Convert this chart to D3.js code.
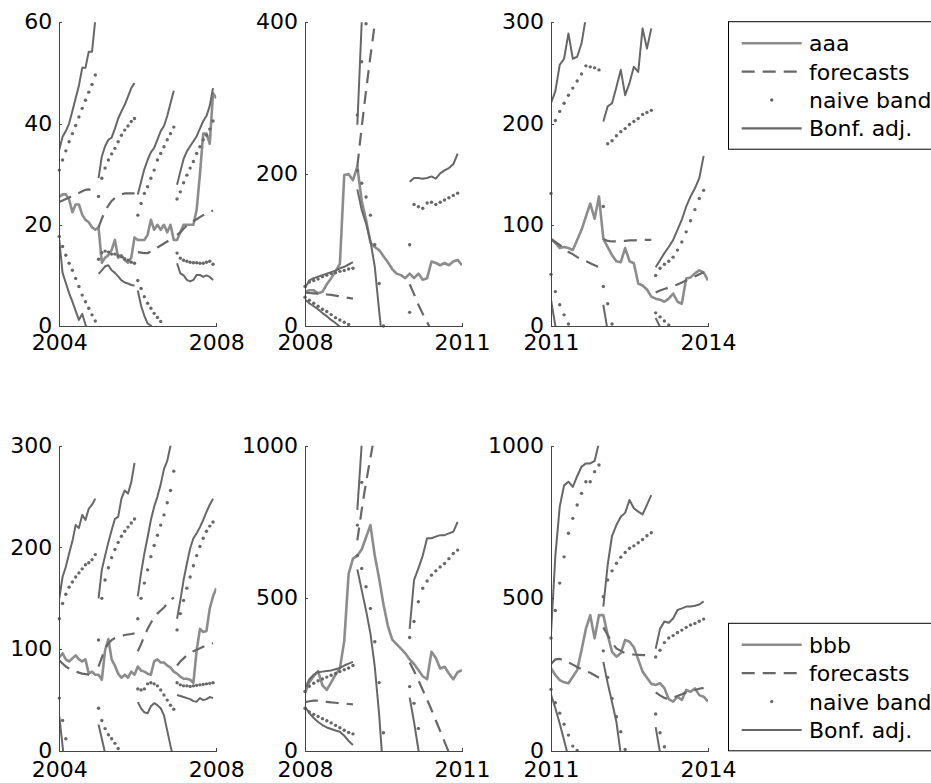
<!DOCTYPE html>
<html>
<head>
<meta charset="utf-8">
<script src="https://cdn.jsdelivr.net/npm/d3@7"></script>
<style>
body { margin: 0; background: #fff; }
svg { display: block; font-family: "DejaVu Sans", sans-serif; }
.axis path, .axis line { stroke: #444; shape-rendering: crispEdges; }
.axis text { font-size: 22px; fill: #000; font-family: "DejaVu Sans", sans-serif; }
.legend text { font-size: 22px; fill: #000; }
</style>
</head>
<body>
<svg id="chart" width="931" height="783"></svg>
<script>
// panel settings (top row = aaa, bottom row = bbb)
const panelYears = [[2004, 2008], [2008, 2011], [2011, 2014]];
const yMaxTop = [60, 400, 300];
const yTicksTop = [[0, 20, 40, 60], [0, 200, 400], [0, 100, 200, 300]];
const yMaxBot = [300, 1000, 1000];
const yTicksBot = [[0, 100, 200, 300], [0, 500, 1000], [0, 500, 1000]];
const seriesNames = ['aaa', 'bbb'];
const legendLabels = ['forecasts', 'naive band', 'Bonf. adj.'];

// observed monthly values
const obs1 = [25.5, 26, 26, 25, 22.5, 24, 24, 22, 21, 20.5, 19.5, 19, 19.5, 12.5, 13.5, 14, 15, 17, 13.5, 14, 13, 12.5, 13.5, 17.5,
  17, 17, 17, 18, 21, 19, 20, 19, 20, 18.5, 20, 17, 17, 18.5, 20, 20, 20, 20, 23, 30, 38, 38, 36, 46, 45];
const obs2 = [45, 47, 47, 43, 45, 55, 63, 72, 82, 199, 200, 192, 210, 165, 140, 110, 104, 100, 92, 84, 75, 69, 67, 63,
  69, 63, 69, 61, 63, 85, 83, 80, 83, 80, 85, 87, 80];
const obs3 = [86, 82, 77, 78, 77, 75, 85, 95, 108, 121, 106, 128, 86, 78, 70, 64, 63, 77, 64, 62, 42, 40, 36, 29,
  27, 26, 24, 27, 32, 24, 22, 47, 48, 52, 55, 53, 45];
const obs4 = [92, 96, 90, 88, 91, 94, 90, 88, 90, 76, 78, 75, 75, 70, 99, 110, 90, 84, 76, 72, 75, 72, 78, 75,
  83, 79, 78, 76, 75, 88, 90, 87, 87, 84, 82, 78, 76, 73, 71, 71, 70, 67, 99, 120, 117, 118, 140, 152, 160];
const obs5 = [190, 225, 245, 262, 215, 200, 225, 250, 270, 360, 580, 630, 640, 660, 700, 740, 640, 565, 480, 410, 365, 350, 335, 320,
  300, 285, 265, 245, 235, 325, 305, 270, 276, 254, 235, 258, 265];
const obs6 = [271, 249, 232, 225, 222, 243, 265, 330, 400, 445, 369, 445, 445, 380, 325, 309, 320, 364, 358, 340, 300, 260, 240, 220,
  216, 222, 206, 170, 162, 178, 167, 200, 194, 205, 183, 178, 162];

// yearly forecast blocks (one list per forecast origin, monthly steps)
const fc1 = [[24.5, 24.8, 25.1, 25.4, 25.7, 26, 26.3, 26.6, 26.9, 27, 26.8, 26.4],
  [19.5, 21.2, 22.7, 23.8, 24.7, 25.3, 25.7, 26, 26.2, 26.2, 26.2, 26.2],
  [14.6, 14.5, 14.4, 14.4, 14.7, 15.1, 15.5, 15.9, 16.3, 16.7, 17.1, 17.5],
  [18, 18.5, 19.2, 19.8, 20.3, 20.7, 21.1, 21.5, 21.9, 22.2, 22.5, 22.8]];
const naiveUp1 = [[30.8, 32.8, 34.6, 36.4, 38, 39.6, 41.3, 43, 44.6, 46.2, 47.7, 49.6],
  [25.6, 29.2, 31.2, 32.8, 34, 35.1, 36.4, 37.7, 38.7, 39.5, 40.4, 41],
  [21.9, 24.2, 26.2, 27.5, 29.2, 30.8, 32.8, 34.1, 35.4, 36.8, 38, 39.3],
  [25.1, 26.5, 28.3, 29.8, 31.2, 32.5, 34.1, 35.4, 36.8, 37.7, 38.9, 40.5]];
const naiveLo1 = [[17.7, 15.7, 14, 12.4, 11, 9.4, 7.8, 6.1, 4.8, 3.5, 2.2, 1],
  [13.2, 14.5, 14.8, 14.6, 14.2, 14.2, 13.9, 13.7, 13.3, 13, 12.6, 12.4],
  [9, 7.4, 5.8, 4.5, 3.5, 2.5, 1.7, 0.9],
  [14.4, 13.4, 13, 12.8, 12.6, 12.5, 12.5, 12.4, 12.4, 12.6, 12.8, 12.2]];
const bonfUp1 = [[34.8, 37.4, 38.5, 40, 42.5, 45, 47.5, 51, 51, 54.2, 54.2, 60.5],
  [29.2, 33.5, 35.5, 36.8, 37.2, 39, 41, 42.4, 43.7, 45.3, 47, 48],
  [26, 28.5, 31, 32.8, 34.3, 35.2, 36.8, 38.5, 39.5, 41.5, 44, 46.5],
  [27.9, 30.5, 33, 34.5, 35.5, 36.5, 37.5, 39, 40.5, 41.5, 43.5, 47]];
const bonfLo1 = [[17, 10.5, 8.5, 6.5, 4.8, 3, 1.2, 2.4, 0.3, -2],
  [10.3, 11, 11.8, 12, 11, 10.5, 9.8, 9, 8.6, 8.4, 8.1, 8],
  [7, 4, 2, 0.5, 0.1, -1],
  [12.4, 10.4, 10, 9.1, 8.8, 9.1, 10.1, 10.1, 9.7, 10, 9.7, 9.1]];

const fc2 = [[44, 43.5, 43, 42.5, 42, 41.5, 41, 40, 39, 38, 37, 36],
  [210, 262, 310, 355, 398, 440],
  [55, 42, 28, 16, 5, -6]];
const naiveUp2 = [[52, 58, 60, 62, 65, 67, 69, 70, 72, 73, 75, 76],
  [278, 348, 398, 450],
  [107, 160, 157, 155, 162, 163, 160, 163, 166, 169, 172, 175]];
const naiveLo2 = [[38, 34, 30, 26, 22, 19, 15, 11, 8, 5, 2],
  [205, 188, 170, 146, 107, 56, 0],
  [18]];
const bonfUp2 = [[50, 60, 63, 65, 67, 69, 71, 73, 76, 78, 81, 84],
  [265, 400, 470],
  [190, 195, 195, 194, 195, 197, 194, 201, 205, 208, 213, 227]];
const bonfLo2 = [[35, 30, 26, 22, 17, 13, 8, 4, -1],
  [180, 153, 135, 112, 78, 20, -35],
  [-5, -60]];

const fc3 = [[86, 83, 80, 77, 73, 71, 68, 66, 64, 62, 60, 58],
  [86, 84, 83.5, 83.5, 84, 84, 84.5, 84.5, 85, 85, 85, 85],
  [33, 35, 36.5, 38, 39.5, 41, 43, 45, 47, 49, 51, 53]];
const naiveUp3 = [[131, 203, 212, 220, 228, 235, 242, 249, 257, 256, 255, 253],
  [118, 180, 183, 188, 192, 195, 199, 202, 205, 209, 211, 213],
  [50, 57, 61, 64, 68, 75, 83, 93, 104, 115, 126, 134]];
const naiveLo3 = [[51, 34, 21, 11, 2],
  [39, 22, 2],
  [13, 9, 5, 1]];
const bonfUp3 = [[220, 232, 258, 264, 289, 264, 266, 279, 305, 320],
  [202, 217, 220, 236, 253, 228, 240, 256, 251, 294, 274, 294],
  [58, 65, 72, 78, 85, 95, 105, 118, 128, 136, 146, 168]];
const bonfLo3 = [[26, 0, -25],
  [21, -5],
  [8, -1]];

const fc4 = [[89, 86, 83, 81, 79, 78, 77, 76, 75.5, 75, 74.5, 74],
  [83, 92, 100, 106, 109, 111, 112, 113, 114, 114.5, 115, 115.5],
  [98, 105, 113, 120, 126, 131, 135, 138, 141, 145, 148, 151],
  [84, 88, 91, 94, 96, 98, 99.5, 101, 102.5, 104, 105, 106]];
const naiveUp4 = [[130, 145, 154, 161, 166, 171, 175, 179, 183, 185, 188, 193],
  [109, 150, 168, 180, 190, 198, 205, 211, 216, 220, 224, 228],
  [130, 150, 165, 178, 191, 202, 212, 222, 232, 244, 256, 275],
  [119, 135, 148, 160, 171, 182, 192, 201, 209, 216, 221, 225]];
const naiveLo4 = [[52, 30, 12],
  [42, 30, 22, 16, 12, 7.5, 2.5],
  [61, 60, 61, 66, 67, 66, 64, 60, 55, 50, 45, 41],
  [67, 65, 64, 64, 63.5, 64, 64.5, 65, 65.5, 66, 66.5, 67]];
const bonfUp4 = [[150, 171, 181, 194, 206, 222, 219, 232, 227, 238, 242, 248],
  [150, 178, 192, 205, 217, 228, 230, 248, 256, 253, 264, 283],
  [152, 175, 194, 210, 227, 240, 250, 262, 277, 285, 300, 315],
  [130, 148, 168, 184, 199, 209, 214, 220, 227, 235, 242, 248]];
const bonfLo4 = [[34, 5, -25],
  [26, 12, -2],
  [48, 42, 38, 37, 44, 47, 45, 42, 35, 20, 5, -8],
  [55, 54, 53, 52, 51, 49, 48.5, 52, 50, 51, 53, 52]];

const fc5 = [[160, 163, 165, 165, 163, 161, 159, 158, 156, 155, 154, 153],
  [690, 790, 880, 960, 1040],
  [290, 262, 232, 200, 168, 135, 100, 65, 30, -5]];
const naiveUp5 = [[195, 212, 222, 230, 236, 242, 248, 254, 260, 266, 272, 280],
  [740, 880],
  [372, 424, 489, 533, 557, 576, 590, 603, 614, 630, 647, 658]];
const naiveLo5 = [[140, 128, 120, 113, 106, 99, 92, 84, 76, 68, 61, 56],
  [640, 598, 538, 467, 358, 224, 60],
  [211, 156, 74]];
const bonfUp5 = [[205, 235, 250, 258, 260, 262, 264, 268, 272, 280, 286, 292],
  [790, 1005],
  [400, 560, 598, 640, 697, 697, 702, 707, 707, 713, 718, 750]];
const bonfLo5 = [[145, 124, 108, 95, 85, 77, 72, 67, 63, 50, 33, 20],
  [595, 527, 460, 385, 276, 120, -80],
  [175, 95, 5, -80]];

const fc6 = [[285, 300, 302, 295, 290, 283, 275, 268, 262, 256, 248, 240],
  [405, 380, 355, 336, 328, 320, 318, 316, 315, 314, 314, 314],
  [192, 182, 174, 170, 175, 180, 186, 192, 196, 200, 204, 207]];
const naiveUp6 = [[370, 460, 550, 636, 713, 762, 806, 844, 882, 882, 915, 937],
  [505, 560, 590, 615, 635, 650, 664, 672, 682, 693, 705, 715],
  [308, 330, 355, 370, 378, 388, 396, 405, 413, 418, 425, 432]];
const naiveLo6 = [[202, 158, 124, 88, 52, 16, 2],
  [328, 241, 172, 112, 63, 5],
  [121, 60, 14]];
const bonfUp6 = [[385, 640, 800, 870, 882, 865, 900, 931, 942, 942, 950, 1010],
  [473, 610, 705, 740, 767, 780, 822, 795, 784, 775, 806, 838],
  [335, 400, 424, 420, 434, 462, 467, 473, 473, 476, 480, 490]];
const bonfLo6 = [[185, 140, 90, 35, -20],
  [292, 222, 160, 95, -10],
  [78, -5]];

const panels = [
  {row: 0, col: 0, obs: obs1, fc: fc1, nUp: naiveUp1, nLo: naiveLo1, bUp: bonfUp1, bLo: bonfLo1},
  {row: 0, col: 1, obs: obs2, fc: fc2, nUp: naiveUp2, nLo: naiveLo2, bUp: bonfUp2, bLo: bonfLo2},
  {row: 0, col: 2, obs: obs3, fc: fc3, nUp: naiveUp3, nLo: naiveLo3, bUp: bonfUp3, bLo: bonfLo3},
  {row: 1, col: 0, obs: obs4, fc: fc4, nUp: naiveUp4, nLo: naiveLo4, bUp: bonfUp4, bLo: bonfLo4},
  {row: 1, col: 1, obs: obs5, fc: fc5, nUp: naiveUp5, nLo: naiveLo5, bUp: bonfUp5, bLo: bonfLo5},
  {row: 1, col: 2, obs: obs6, fc: fc6, nUp: naiveUp6, nLo: naiveLo6, bUp: bonfUp6, bLo: bonfLo6}
];

const colX = [59.3, 305, 551];
const panelW = 157;
const rowY = [[22.3, 326], [445.7, 751]];
const obsColor = '#8c8c8c';
const bandColor = '#676767';
const dash = '13,8';

const svg = d3.select('#chart');
const defs = svg.append('defs');

function drawPanel(p, i) {
  const years = panelYears[p.col];
  const yMax = p.row === 0 ? yMaxTop[p.col] : yMaxBot[p.col];
  const yTicks = p.row === 0 ? yTicksTop[p.col] : yTicksBot[p.col];
  const [top, bottom] = rowY[p.row];
  const x = d3.scaleLinear().domain(years).range([colX[p.col], colX[p.col] + panelW]);
  const y = d3.scaleLinear().domain([0, yMax]).range([bottom, top]);
  const t = m => years[0] + m / 12;

  defs.append('clipPath').attr('id', 'clip' + i)
    .append('rect')
    .attr('x', colX[p.col]).attr('y', top)
    .attr('width', panelW).attr('height', bottom - top);

  const line = d3.line()
        .x(d => x(t(d[0])))
        .y(d => y(d[1]));
  const blocks = arr => arr.map((seg, s) => seg.map((v, k) => [s * 12 + k, v]));

  const g = svg.append('g').attr('clip-path', `url(#clip${i})`);
  // observed series
  g.append('path')
    .datum(p.obs.map((v, m) => [m, v]))
    .attr('d', line)
    .attr('fill', 'none')
    .attr('stroke', obsColor)
    .attr('stroke-width', 2.6)
    .attr('stroke-linejoin', 'round');
  // forecasts
  g.append('g')
    .selectAll('path')
    .data(blocks(p.fc))
    .enter().append('path')
    .attr('d', line)
    .attr('fill', 'none')
    .attr('stroke', bandColor)
    .attr('stroke-width', 2.2)
    .style('stroke-dasharray', dash);
  // Bonferroni adjusted band
  g.append('g')
    .selectAll('path')
    .data(blocks(p.bUp).concat(blocks(p.bLo)))
    .enter().append('path')
    .attr('d', line)
    .attr('fill', 'none')
    .attr('stroke', bandColor)
    .attr('stroke-width', 2)
    .attr('stroke-linejoin', 'round');
  // naive band as dots, only those inside the axes
  const dots = [];
  blocks(p.nUp).concat(blocks(p.nLo)).forEach(seg => {
    dots.push(...seg.filter(d => d[1] >= 0 && d[1] <= yMax));
  });
  svg.append('g')
    .selectAll('circle')
    .data(dots)
    .enter().append('circle')
    .attr('cx', d => x(t(d[0])))
    .attr('cy', d => y(d[1]))
    .attr('r', 1.7)
    .attr('fill', bandColor);

  // axes
  svg.append('g')
    .attr('class', 'axis')
    .attr('transform', `translate(${colX[p.col]},0)`)
    .call(d3.axisLeft(y).tickValues(yTicks).tickFormat(d3.format('d'))
          .tickSizeInner(-3).tickSizeOuter(0).tickPadding(7))
    .call(a => a.selectAll('text').style('font-size', '22px').attr('dy', '0.3em'));
  svg.append('g')
    .attr('class', 'axis')
    .attr('transform', `translate(0,${bottom})`)
    .call(d3.axisBottom(x).tickValues(years).tickFormat(d3.format('d'))
          .tickSizeInner(-3).tickSizeOuter(0).tickPadding(p.row === 0 ? 8 : 10))
    .call(a => a.selectAll('text').style('font-size', '22px'));
}

panels.forEach(drawPanel);

function drawLegend(top, name) {
  const g = svg.append('g').attr('class', 'legend');
  g.append('rect')
    .attr('x', 728.5).attr('y', top)
    .attr('width', 220).attr('height', 127.5)
    .attr('fill', '#fff').attr('stroke', '#000').attr('stroke-width', 1);
  const labels = [name].concat(legendLabels);
  const row = g.selectAll('g')
        .data(labels)
        .enter().append('g')
        .attr('transform', (_, i) => `translate(0,${top + 21.5 + 28.4 * i})`);
  row.filter((_, i) => i !== 2).append('line')
    .attr('x1', 741.7).attr('x2', 801.7)
    .attr('stroke', (_, i) => i === 0 ? obsColor : bandColor)
    .attr('stroke-width', (_, i) => i === 0 ? 2.6 : 2.2)
    .style('stroke-dasharray', d => d === 'forecasts' ? dash : null);
  row.filter((_, i) => i === 2).append('circle')
    .attr('cx', 771.7).attr('r', 1.7).attr('fill', bandColor);
  row.append('text')
    .attr('x', 809)
    .attr('dy', '0.36em')
    .text(d => d);
}

drawLegend(21.7, seriesNames[0]);
drawLegend(623.3, seriesNames[1]);
</script>
</body>
</html>
